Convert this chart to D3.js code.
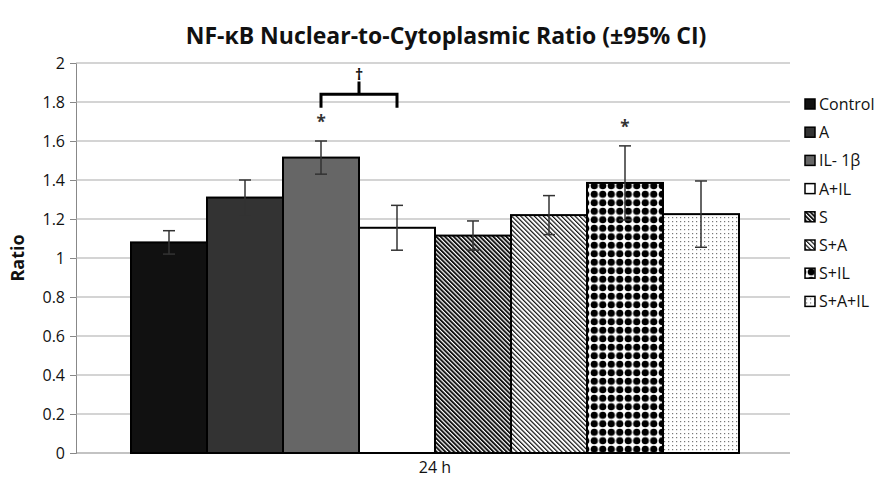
<!DOCTYPE html>
<html>
<head>
<meta charset="utf-8">
<script src="https://cdn.jsdelivr.net/npm/d3@7"></script>
<style>
  body { margin: 0; background: #fff; }
  text { font-family: "Open Sans", "DejaVu Sans", sans-serif; }
</style>
</head>
<body>
<svg id="svg" width="876" height="478"></svg>
<script>
const svg = d3.select("#svg");

const groups = ["24 h"];
const categories = ["Control", "A", "IL- 1\u03b2", "A+IL", "S", "S+A", "S+IL", "S+A+IL"];
const values = [1.08, 1.31, 1.515, 1.155, 1.115, 1.22, 1.385, 1.225];
const errors = [0.06, 0.09, 0.085, 0.115, 0.075, 0.1, 0.19, 0.17];
const starred = ["IL- 1\u03b2", "S+IL"];
const yTicks = [0, 0.2, 0.4, 0.6, 0.8, 1, 1.2, 1.4, 1.6, 1.8, 2];

const margin = { left: 76, right: 86, top: 63, bottom: 25 };
const width = 876;
const height = 478;

const y = d3.scaleLinear().domain([0, 2]).range([height - margin.bottom, margin.top]);

// group centre sits a touch right of the plot middle, as in the source
const x0 = d3.scalePoint().domain(groups).range([margin.left, width - margin.right + 4]).padding(0.5);

const x1 = d3.scaleBand().domain(categories).range([-304, 304]);

// fill patterns
const defs = svg.append("defs");

function stripes(id, lineW, gap) {
  const size = lineW + gap;
  const p = defs.append("pattern").attr("id", id)
    .attr("patternUnits", "userSpaceOnUse")
    .attr("width", size).attr("height", size)
    .attr("patternTransform", "rotate(-45)");
  p.append("rect").attr("width", size).attr("height", size).attr("fill", "#fff");
  p.append("rect").attr("width", lineW).attr("height", size).attr("fill", "#111");
}
stripes("pS", 1.9, 1.2);
stripes("pSA", 1.2, 2.0);

const pDiam = defs.append("pattern").attr("id", "pSIL")
  .attr("patternUnits", "userSpaceOnUse").attr("width", 8.5).attr("height", 8.5)
  .attr("x", 2).attr("y", 3);
pDiam.append("rect").attr("width", 8.5).attr("height", 8.5).attr("fill", "#fff");
pDiam.append("circle").attr("cx", 4.25).attr("cy", 4.25).attr("r", 3.6).attr("fill", "#000");

const pDots = defs.append("pattern").attr("id", "pSAIL")
  .attr("patternUnits", "userSpaceOnUse").attr("width", 4).attr("height", 4);
pDots.append("rect").attr("width", 4).attr("height", 4).attr("fill", "#fff");
pDots.append("rect").attr("x", 1).attr("y", 1).attr("width", 1.2).attr("height", 1.2).attr("fill", "#777");

const fills = d3.scaleOrdinal(categories,
  ["#111111", "#333333", "#666666", "#ffffff", "url(#pS)", "url(#pSA)", "url(#pSIL)", "url(#pSAIL)"]);

// y axis
const yAxis = svg.append("g")
  .attr("transform", `translate(${margin.left},0)`)
  .call(d3.axisLeft(y).tickValues(yTicks).tickFormat(d3.format("")).tickSizeOuter(0).tickSize(6));
yAxis.select(".domain").attr("stroke", "#888");
yAxis.selectAll(".tick line").attr("stroke", "#888");
yAxis.selectAll(".tick text")
  .attr("x", -11)
  .style("font-size", "16px")
  .attr("fill", "#111");

// gridlines
svg.append("g")
  .selectAll("line")
  .data(yTicks.filter(d => d > 0))
  .join("line")
  .attr("x1", margin.left).attr("x2", width - margin.right)
  .attr("y1", d => y(d)).attr("y2", d => y(d))
  .attr("stroke", "#aaa").attr("stroke-width", 1.2);

// x baseline
svg.append("line")
  .attr("x1", margin.left).attr("x2", width - margin.right)
  .attr("y1", y(0)).attr("y2", y(0))
  .attr("stroke", "#888").attr("stroke-width", 1.2);

svg.append("text")
  .attr("x", x0("24 h")).attr("y", y(0) + 20)
  .attr("text-anchor", "middle")
  .style("font-size", "16px")
  .attr("fill", "#111")
  .text(groups[0]);

// bars
const gx = x0("24 h");
const bars = svg.append("g").attr("transform", `translate(${gx},0)`);

bars.selectAll("rect")
  .data(categories)
  .join("rect")
  .attr("x", d => x1(d))
  .attr("y", (d, i) => y(values[i]))
  .attr("width", x1.bandwidth())
  .attr("height", (d, i) => y(0) - y(values[i]))
  .attr("fill", d => fills(d))
  .attr("stroke", "#000")
  .attr("stroke-width", 2);

// error bars
const eb = bars.selectAll("g.err")
  .data(categories)
  .join("g")
  .attr("class", "err")
  .attr("transform", d => `translate(${x1(d) + x1.bandwidth() / 2},0)`);
eb.append("line")
  .attr("y1", (d, i) => y(values[i] + errors[i]))
  .attr("y2", (d, i) => y(values[i] - errors[i]))
  .attr("stroke", "#333").attr("stroke-width", 1.5);
eb.append("line")
  .attr("x1", -6).attr("x2", 6)
  .attr("y1", (d, i) => y(values[i] + errors[i]))
  .attr("y2", (d, i) => y(values[i] + errors[i]))
  .attr("stroke", "#333").attr("stroke-width", 1.5);
eb.append("line")
  .attr("x1", -6).attr("x2", 6)
  .attr("y1", (d, i) => y(values[i] - errors[i]))
  .attr("y2", (d, i) => y(values[i] - errors[i]))
  .attr("stroke", "#333").attr("stroke-width", 1.5);

// significance stars
bars.selectAll("text.star")
  .data(starred)
  .join("text")
  .attr("class", "star")
  .attr("x", d => x1(d) + x1.bandwidth() / 2)
  .attr("y", d => {
    const i = categories.indexOf(d);
    return y(values[i] + errors[i]) - 13;
  })
  .attr("text-anchor", "middle")
  .style("font-size", "17px")
  .style("font-weight", "bold")
  .attr("fill", "#333")
  .text("*");

// bracket IL-1β vs A+IL
const bx1 = x1("IL- 1\u03b2") + x1.bandwidth() / 2;
const bx2 = x1("A+IL") + x1.bandwidth() / 2;
const by = y(1.84);
bars.append("path")
  .attr("d", `M${bx1},${y(1.77)}V${by}H${bx2}V${y(1.77)}M${(bx1 + bx2) / 2},${by}V${y(1.905)}`)
  .attr("fill", "none")
  .attr("stroke", "#000")
  .attr("stroke-width", 3);
bars.append("text")
  .attr("x", (bx1 + bx2) / 2).attr("y", y(1.915))
  .attr("text-anchor", "middle")
  .style("font-size", "16px")
  .style("font-weight", "bold")
  .attr("fill", "#111")
  .text("\u2020");

// legend
const legend = svg.append("g").attr("transform", "translate(805,104)");
const li = legend.selectAll("g")
  .data(categories)
  .join("g")
  .attr("transform", (d, i) => `translate(0,${i * 28.2})`);
li.append("rect")
  .attr("x", 0).attr("y", -5)
  .attr("width", 10).attr("height", 10)
  .attr("fill", d => fills(d))
  .attr("stroke", "#000").attr("stroke-width", 1.5);
li.append("text")
  .attr("x", 14).attr("y", 6)
  .style("font-size", "16px")
  .attr("fill", "#111")
  .text(d => d);

// axis title
svg.append("text")
  .attr("transform", `translate(24,${y(1)}) rotate(-90)`)
  .attr("text-anchor", "middle")
  .style("font-size", "18px")
  .style("font-weight", "bold")
  .attr("fill", "#111")
  .text("Ratio");

// chart title
svg.append("text")
  .attr("x", 446).attr("y", 44)
  .attr("text-anchor", "middle")
  .style("font-size", "23px")
  .style("font-weight", "bold")
  .attr("fill", "#111")
  .text("NF-\u03baB Nuclear-to-Cytoplasmic Ratio (\u00b195% CI)");
</script>
</body>
</html>
